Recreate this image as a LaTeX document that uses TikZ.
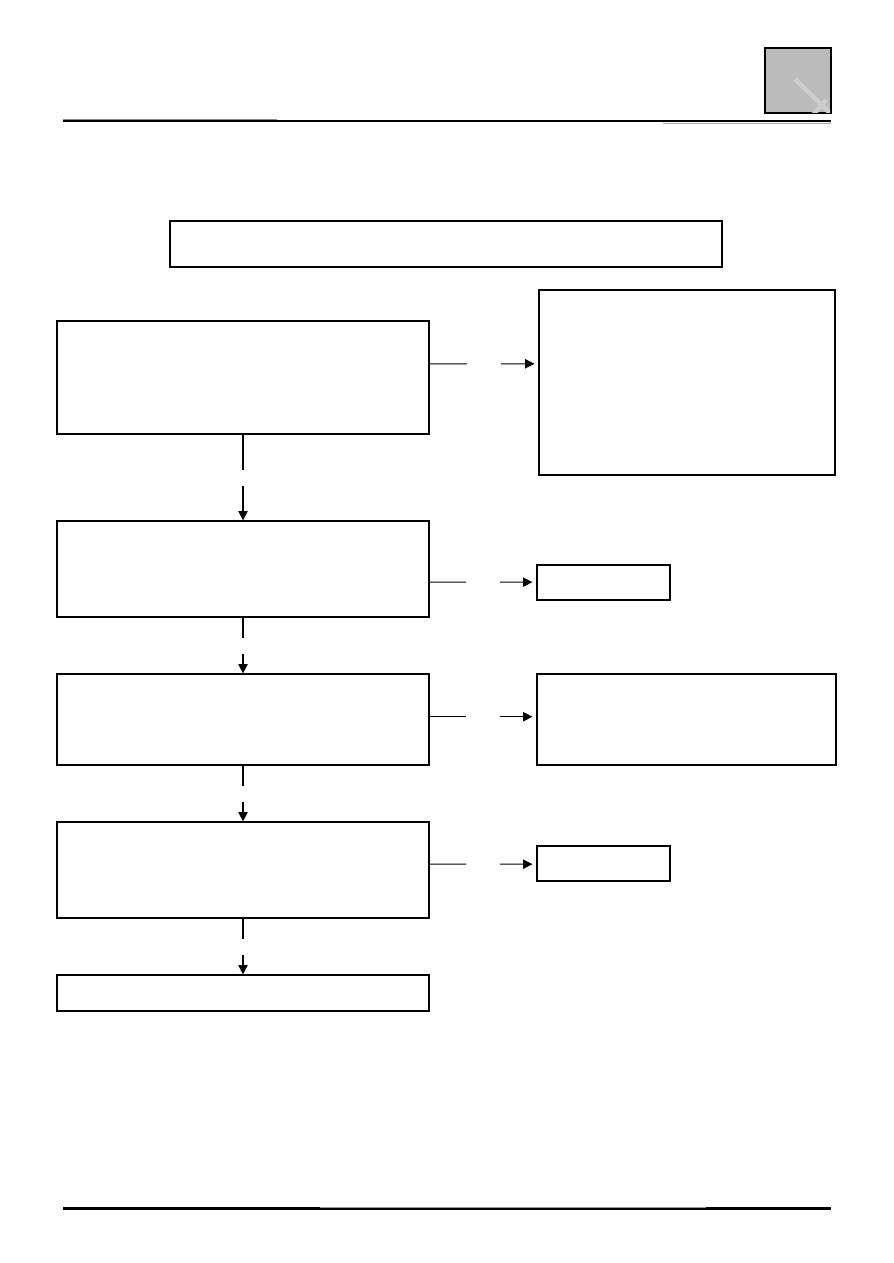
\documentclass[tikz,border=0pt]{standalone}
\usepackage{tikz}
\usetikzlibrary{arrows.meta,calc}
\tikzset{every picture/.style={line width=0.75pt}}
\tikzset{
  box/.style={draw, line width=0.9pt, inner sep=0pt, anchor=center},
  flow/.style={line width=0.8pt},
  flowarrow/.style={line width=0.8pt, -{Triangle[length=7pt,width=7pt]}}
}

\begin{document}
\begin{tikzpicture}[x=0.75pt,y=0.75pt,yscale=-1,xscale=1]
\useasboundingbox (0,0) rectangle (893,1263);

%Header Lines
\draw [line width=2.2pt]   (63,121) -- (831,121) ;
\draw [color={rgb, 255:red, 140; green, 140; blue, 140 }  ,line width=0.6pt]   (63,119) -- (277,119) ;
\draw [color={rgb, 255:red, 170; green, 170; blue, 170 }  ,line width=0.6pt]   (663,123) -- (831,123) ;
%Shape: Rectangle (corner tab)
\draw [fill={rgb, 255:red, 187; green, 187; blue, 187 }  ,line width=1.4pt]  (765,48) rectangle (831,113) ;
\begin{scope}
\clip (766,49) rectangle (830,112);
\draw [color={rgb, 255:red, 205; green, 205; blue, 205 }  ,line width=3.4pt]   (795,79) -- (834,117) (812,116) -- (826,100) ;
\end{scope}

%Footer Lines
\draw [line width=1.6pt]   (63,1208.5) -- (831,1208.5) ;
\draw [color={rgb, 255:red, 150; green, 150; blue, 150 }  ,line width=0.5pt]   (320,1207) -- (706,1207) ;

%Shape: Rectangle boxes
\draw (446,244) node [box, minimum width=414pt, minimum height=34.5pt] (top) {};
\draw (243,377.5) node [box, minimum width=279pt, minimum height=84.75pt] (b1) {};
\draw (687,382.5) node [box, minimum width=222pt, minimum height=138.75pt] (r1) {};
\draw (243,569) node [box, minimum width=279pt, minimum height=72pt] (b2) {};
\draw (603.5,582.5) node [box, minimum width=99.75pt, minimum height=26.25pt] (r2) {};
\draw (243,719.5) node [box, minimum width=279pt, minimum height=68.25pt] (b3) {};
\draw (686.5,719.5) node [box, minimum width=224.25pt, minimum height=68.25pt] (r3) {};
\draw (243,870) node [box, minimum width=279pt, minimum height=72pt] (b4) {};
\draw (603.5,863.5) node [box, minimum width=99.75pt, minimum height=26.25pt] (r4) {};
\draw (243,993) node [box, minimum width=279pt, minimum height=27pt] (b5) {};

%Straight Lines (down, broken in the middle)
\foreach \a/\b in {b1/b2,b2/b3,b3/b4,b4/b5}{
  \coordinate (m\a) at ($(\a.south)!0.5!(\b.north)$);
  \draw [flow]   (\a.south) -- ($(m\a)+(0,-8)$) ;
  \draw [flowarrow]   ($(m\a)+(0,8)$) -- (\b.north) ;
}

%Straight Lines (right, broken in the middle)
\foreach \a/\b/\f in {b1/r1/0.38,b2/r2/0.635,b3/r3/0.47,b4/r4/0.44}{
  \coordinate (s\a) at ($(\a.north east)!\f!(\a.south east)$);
  \coordinate (t\a) at (\b.west |- s\a);
  \coordinate (h\a) at ($(s\a)!0.5!(t\a)$);
  \draw [flow]   (s\a) -- ($(h\a)+(-17,0)$) ;
  \draw [flowarrow, shorten >=3pt]   ($(h\a)+(17,0)$) -- (t\a) ;
}
\end{tikzpicture}
\end{document}
